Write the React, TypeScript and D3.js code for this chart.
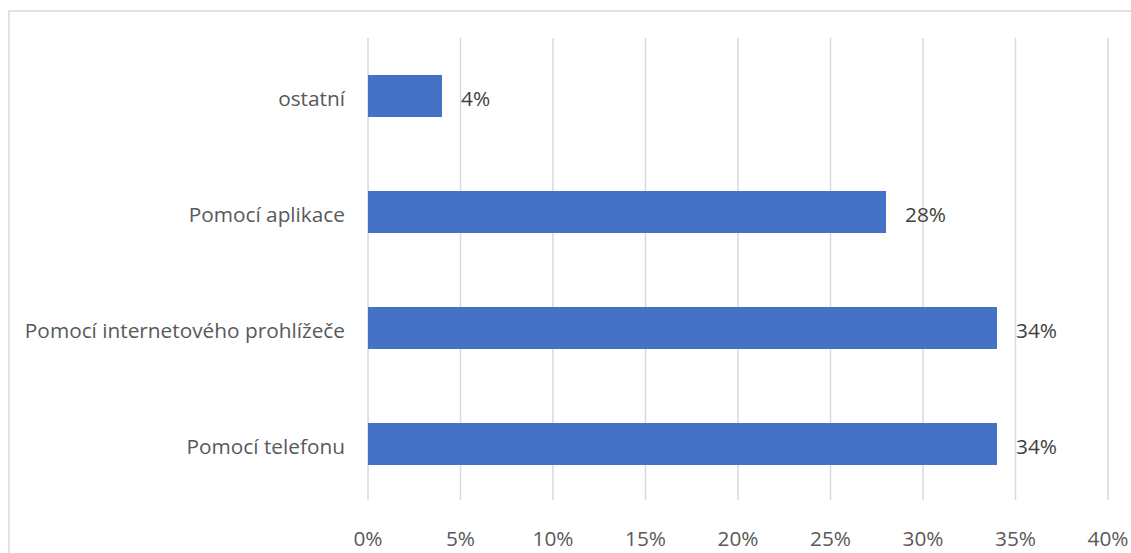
import React from "react";
import * as d3 from "d3";

const categories = ["ostatní", "Pomocí aplikace", "Pomocí internetového prohlížeče", "Pomocí telefonu"];
const values = [4, 28, 34, 34];
const ticks = [0, 5, 10, 15, 20, 25, 30, 35, 40];

export default function App() {
  const W = 1131, H = 553;
  const x = d3.scaleLinear().domain([0, 40]).range([368, 1108]);
  const y = d3.scaleBand().domain(categories).range([38, 502]).paddingInner(0.638).paddingOuter(0.319);
  const font = "'Open Sans', sans-serif";
  const fs = 20.8;
  return (
    <svg width={W} height={H} style={{ position: "absolute", left: 0, top: 0, background: "#fff" }}>
      <rect x={9} y={11} width={1140} height={560} fill="#fff" stroke="#d9d9d9" strokeWidth={1.5} />
      {ticks.map(t => (
        <g key={t}>
          <line x1={x(t)} x2={x(t)} y1={38} y2={500} stroke="#d9d9d9" strokeWidth={1.5} />
          <text x={x(t)} y={546} textAnchor="middle" fontFamily={font} fontSize={fs} fill="#595959">{t}%</text>
        </g>
      ))}
      {categories.map((c, i) => {
        const yy = y(c)!;
        const cy = yy + y.bandwidth() / 2;
        return (
          <g key={c}>
            <rect x={x(0)} y={yy} width={x(values[i]) - x(0)} height={y.bandwidth()} fill="#4472C4" />
            <text x={345} y={cy} dy="0.5em" textAnchor="end" fontFamily={font} fontSize={fs} fill="#595959">{c}</text>
            <text x={x(values[i]) + 19} y={cy} dy="0.5em" fontFamily={font} fontSize={fs} fill="#404040">{values[i]}%</text>
          </g>
        );
      })}
    </svg>
  );
}
